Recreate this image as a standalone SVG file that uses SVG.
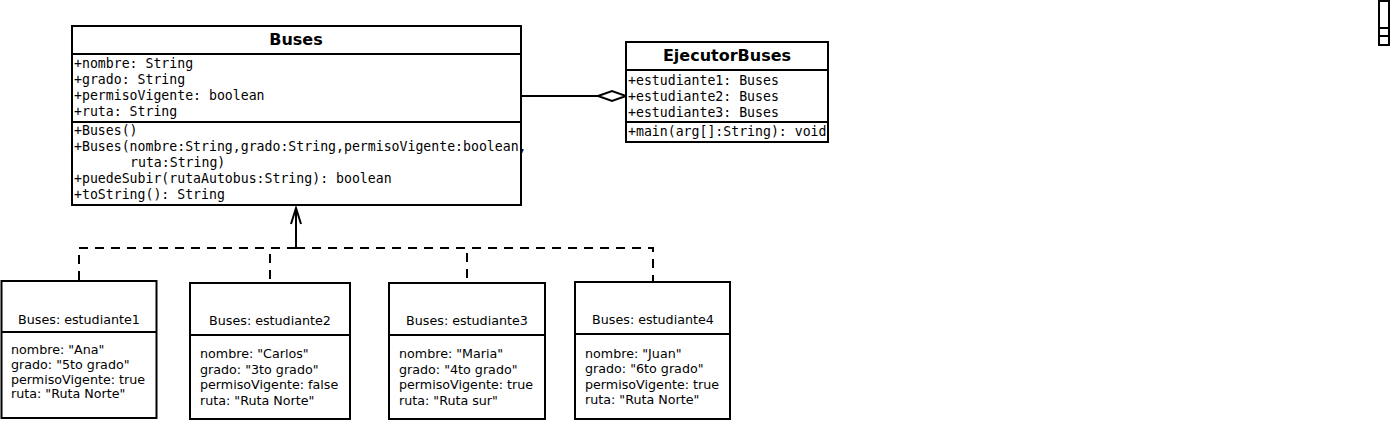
<svg xmlns="http://www.w3.org/2000/svg" width="1390" height="421" viewBox="0 0 1390 421">
<defs>
<style>
.box{fill:#fff;stroke:#000;stroke-width:2}
.ln{stroke:#000;stroke-width:2;fill:none}
.ttl{font-family:"DejaVu Sans",sans-serif;font-weight:bold;font-size:16px;text-anchor:middle;fill:#000}
.mono{font-family:"DejaVu Sans Mono",monospace;font-size:13.2px;fill:#000}
.obj{font-family:"DejaVu Sans",sans-serif;font-size:12.7px;fill:#000}
.objt{font-family:"DejaVu Sans",sans-serif;font-size:12.7px;fill:#000;text-anchor:middle}
.dash{stroke:#000;stroke-width:2;fill:none;stroke-dasharray:9 7}
</style>
</defs>
<rect width="1390" height="421" fill="#fff"/>
<g id="connectors">
<path class="ln" d="M522,96 H598"/>
<polygon points="598,96 612,91 626,96 612,101" fill="#fff" stroke="#000" stroke-width="2"/>
<path class="dash" d="M296,248 H79 V281"/>
<path class="dash" d="M296,248 H270 V283"/>
<path class="dash" d="M296,248 H467 V283"/>
<path class="dash" d="M296,248 H653 V282"/>
<path class="ln" d="M296,248 V208"/>
<path class="ln" d="M291,224 L296,208 L301,224"/>
</g>
<g id="Buses">
<rect class="box" x="72" y="26" width="449" height="179"/>
<path class="ln" d="M72,54 H521 M72,122 H521"/>
<text class="ttl" x="296" y="45">Buses</text>
<text class="mono" x="74" y="68">+nombre: String</text>
<text class="mono" x="74" y="84">+grado: String</text>
<text class="mono" x="74" y="100">+permisoVigente: boolean</text>
<text class="mono" x="74" y="116">+ruta: String</text>
<text class="mono" x="74" y="135">+Buses()</text>
<text class="mono" x="74" y="151">+Buses(nombre:String,grado:String,permisoVigente:boolean,</text>
<text class="mono" x="130" y="167">ruta:String)</text>
<text class="mono" x="74" y="183">+puedeSubir(rutaAutobus:String): boolean</text>
<text class="mono" x="74" y="199">+toString(): String</text>
</g>
<g id="EjecutorBuses">
<rect x="626" y="42" width="202" height="100" fill="#fff"/>
<text class="ttl" x="727" y="61">EjecutorBuses</text>
<text class="mono" x="628" y="84.5">+estudiante1: Buses</text>
<text class="mono" x="628" y="100.5">+estudiante2: Buses</text>
<text class="mono" x="628" y="116.5">+estudiante3: Buses</text>
<text class="mono" x="628" y="136">+main(arg[]:String): void</text>
<rect x="626" y="42" width="202" height="100" fill="none" stroke="#000" stroke-width="2"/>
<path class="ln" d="M626,70 H828 M626,122 H828"/>
</g>
<g id="estudiante1">
<rect class="box" x="1.5" y="281" width="155" height="137"/>
<path class="ln" d="M1.5,332 H156.5"/>
<text class="objt" x="79" y="324">Buses: estudiante1</text>
<text class="obj" x="11" y="354">nombre: "Ana"</text>
<text class="obj" x="11" y="369">grado: "5to grado"</text>
<text class="obj" x="11" y="384">permisoVigente: true</text>
<text class="obj" x="11" y="398">ruta: "Ruta Norte"</text>
</g>
<g id="estudiante2">
<rect class="box" x="190" y="283" width="160" height="136"/>
<path class="ln" d="M190,335 H350"/>
<text class="objt" x="270" y="325">Buses: estudiante2</text>
<text class="obj" x="200" y="358">nombre: "Carlos"</text>
<text class="obj" x="200" y="373.5">grado: "3to grado"</text>
<text class="obj" x="200" y="389">permisoVigente: false</text>
<text class="obj" x="200" y="404.5">ruta: "Ruta Norte"</text>
</g>
<g id="estudiante3">
<rect class="box" x="389" y="283" width="156" height="136"/>
<path class="ln" d="M389,335 H545"/>
<text class="objt" x="467" y="325">Buses: estudiante3</text>
<text class="obj" x="399" y="358">nombre: "Maria"</text>
<text class="obj" x="399" y="373.5">grado: "4to grado"</text>
<text class="obj" x="399" y="389">permisoVigente: true</text>
<text class="obj" x="399" y="404.5">ruta: "Ruta sur"</text>
</g>
<g id="estudiante4">
<rect class="box" x="575" y="282" width="155" height="137"/>
<path class="ln" d="M575,334 H730"/>
<text class="objt" x="653" y="324">Buses: estudiante4</text>
<text class="obj" x="585" y="357.5">nombre: "Juan"</text>
<text class="obj" x="585" y="373">grado: "6to grado"</text>
<text class="obj" x="585" y="388.5">permisoVigente: true</text>
<text class="obj" x="585" y="404">ruta: "Ruta Norte"</text>
</g>
<g id="smallbox">
<rect class="box" x="1379" y="1" width="10" height="44"/>
<path class="ln" d="M1379,28 H1389 M1379,36 H1389"/>
</g>
</svg>
